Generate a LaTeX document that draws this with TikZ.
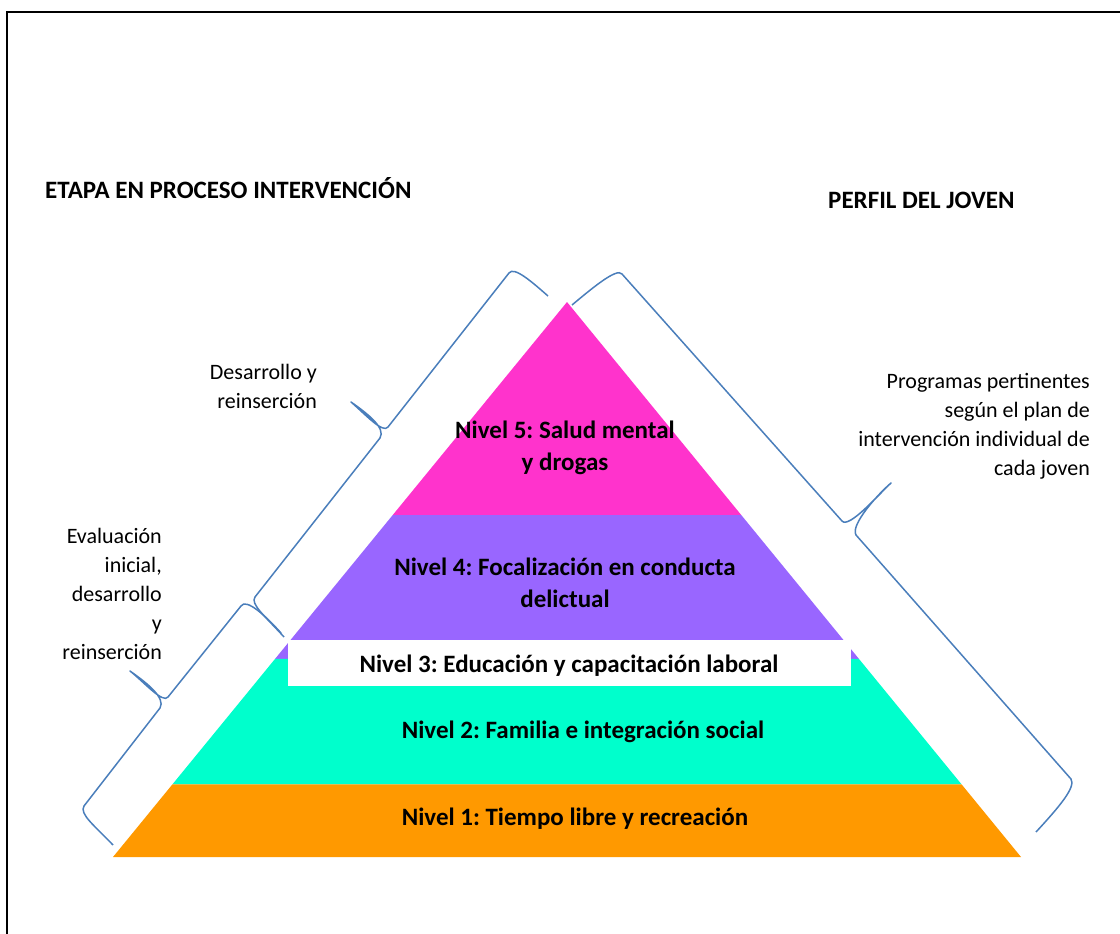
\documentclass[tikz,border=0pt]{standalone}
\usepackage{fontspec}
\setmainfont{Carlito}
\frenchspacing
\usetikzlibrary{calc}
\definecolor{pinkfive}{RGB}{255,51,204}
\definecolor{violetfour}{RGB}{153,102,255}
\definecolor{tealtwo}{RGB}{0,255,204}
\definecolor{orangeone}{RGB}{255,153,0}
\definecolor{bracecol}{RGB}{74,126,187}

\begin{document}
\begin{tikzpicture}[x=1pt,y=-1pt,
  nivel/.style={font=\fontsize{25}{32}\selectfont\bfseries, align=center, anchor=base, inner sep=0pt},
  nota/.style={font=\fontsize{22}{29}\selectfont, align=right, anchor=base east, inner sep=0pt},
  titulo/.style={font=\fontsize{25}{30}\selectfont\bfseries, anchor=base west, inner sep=0pt},
  llave/.style={draw=bracecol, line width=1.5pt, line join=round}]
\useasboundingbox (0,0) rectangle (1120,934);
\draw[line width=2.5pt] (7,934) -- (7,12) -- (1120,12);
\coordinate (apex) at (567,302);
\coordinate (bl) at (113,857);
\coordinate (br) at (1021,857);
\coordinate (l5) at ($(apex)!0.384!(bl)$);
\coordinate (r5) at ($(apex)!0.384!(br)$);
\coordinate (l4) at ($(apex)!0.643!(bl)$);
\coordinate (r4) at ($(apex)!0.643!(br)$);
\coordinate (l2) at ($(apex)!0.869!(bl)$);
\coordinate (r2) at ($(apex)!0.869!(br)$);
\fill[pinkfive] (apex) -- (r5) -- (l5) -- cycle;
\fill[violetfour] (l5) -- (r5) -- (r4) -- (l4) -- cycle;
\fill[tealtwo] (l4) -- (r4) -- (r2) -- (l2) -- cycle;
\fill[orangeone] (l2) -- (r2) -- (br) -- (bl) -- cycle;
\fill[white] (288,640) rectangle (851,686);

\node[nivel] (n5) at (565,470) {Nivel 5: Salud mental\\y drogas};
\node[nivel] (n4) at (565,607) {Nivel 4: Focalización en conducta\\delictual};
\node[nivel] (n3) at (569,672) {Nivel 3: Educación y capacitación laboral};
\node[nivel] (n2) at (583,738) {Nivel 2: Familia e integración social};
\node[nivel] (n1) at (575,825) {Nivel 1: Tiempo libre y recreación};
\node[titulo] (etapa) at (45,198) {ETAPA EN PROCESO INTERVENCIÓN};
\node[titulo] (perfil) at (828,208) {PERFIL DEL JOVEN};
\node[nota] (desa) at (317,408) {Desarrollo y\\reinserción};
\node[nota] (eval) at (162,659) {Evaluación\\inicial,\\desarrollo\\y\\reinserción};
\node[nota] (prog) at (1090,475) {Programas pertinentes\\según el plan de\\intervención individual de\\cada joven};

\draw[llave] (548,296) .. controls (532,282) and (514,266) .. (509,273) -- (388,427)
  .. controls (383,434) and (365,414) .. (351,402) .. controls (368,414) and (386,428) .. (380,438)
  -- (255,597) .. controls (250,604) and (265,616) .. (284,637);
\draw[llave] (281,633) .. controls (265,615) and (246,598) .. (241,606) -- (168,697)
  .. controls (163,704) and (144,682) .. (130,671) .. controls (147,683) and (166,698) .. (160,708)
  -- (84,806) .. controls (79,814) and (95,826) .. (113,845);
\draw[llave] (572,305) .. controls (590,290) and (617,267) .. (622,274) -- (842,521)
  .. controls (849,529) and (879,494) .. (891,483) .. controls (878,494) and (850,525) .. (856,535)
  -- (1071,779) .. controls (1076,787) and (1060,806) .. (1036,832);
\end{tikzpicture}
\end{document}
